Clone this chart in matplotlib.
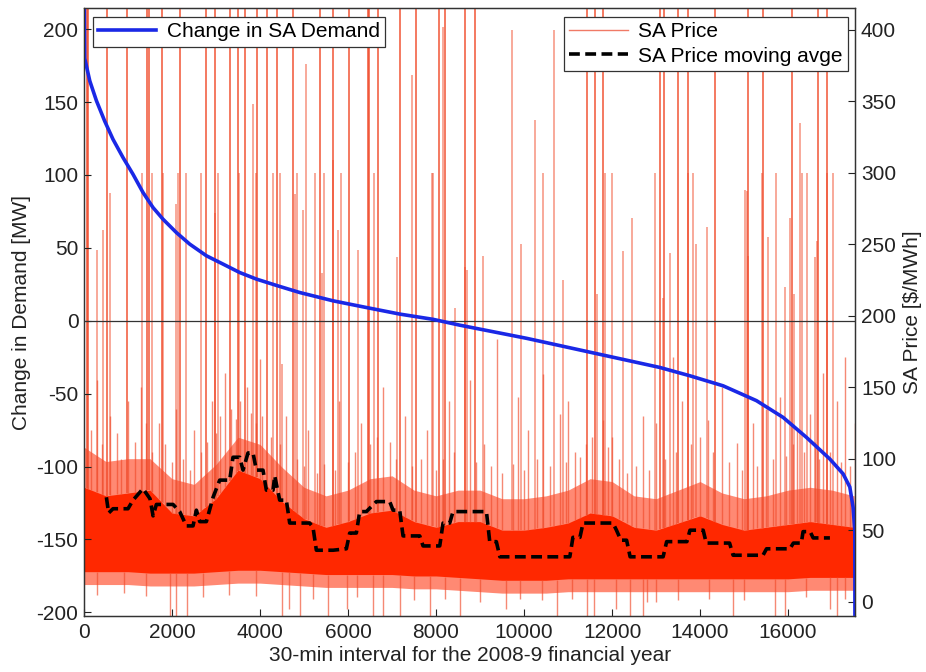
import matplotlib
matplotlib.use("Agg")
import matplotlib.pyplot as plt
import numpy as np

plt.rcParams['font.family'] = ['Liberation Sans', 'DejaVu Sans']
plt.rcParams['axes.unicode_minus'] = False
FS = 15

# ---------------- data ----------------
# Change in SA demand (duration curve), MW
demand_x = [0, 16, 132, 282, 470, 659, 886, 1114, 1341, 1568, 1795, 2100, 2402,
            2782, 3159, 3539, 3918, 4400, 4902, 5660, 6418, 7175, 7932, 8539,
            10054, 11568, 13084, 13766, 14523, 15282, 15888, 16418, 16948,
            17250, 17402, 17477, 17516, 17520]
demand_y = [250, 180, 164.5, 151, 137, 124.5, 112, 100.5, 88, 77.7, 69.7, 60.5, 52.6,
            44.6, 38.9, 33.1, 28.6, 24, 19.4, 13.7, 9.1, 4.6, 1.0, -3,
            -12, -22, -32, -37.7, -44.6, -54.8, -66.3, -80, -94.8,
            -105, -114, -128, -144, -230]

# SA price dense band (envelopes), $/MWh
band_x = list(range(0, 18000, 500))
core_hi = [80, 74, 76, 78, 62, 60, 72, 92, 86, 70, 58, 52, 56, 62, 64, 56, 52, 56,
           56, 50, 50, 52, 55, 62, 60, 52, 50, 55, 60, 54, 50, 52, 54, 56, 54, 52]
fringe_hi = [108, 98, 100, 100, 86, 82, 96, 115, 110, 94, 80, 74, 78, 86, 88, 78, 74, 78,
             78, 72, 72, 74, 78, 86, 84, 74, 72, 78, 84, 76, 72, 74, 78, 80, 78, 74]
core_lo = [21, 21, 21, 20, 20, 20, 21, 22, 22, 21, 20, 19, 19, 19, 19, 18, 18, 17,
           16, 15, 15, 15, 16, 16, 16, 16, 16, 16, 16, 16, 16, 16, 16, 17, 17, 17]
fringe_lo = [12, 12, 12, 11, 11, 11, 12, 13, 13, 12, 11, 10, 10, 10, 10, 9, 9, 8,
             7, 6, 6, 6, 7, 7, 7, 7, 7, 7, 7, 7, 7, 7, 7, 8, 8, 8]

# price spikes that run off the top of the chart (interval index)
tall_spike_x = [60, 84, 516, 970, 1440, 1470, 1766, 2175, 2766, 2970, 3311, 3493,
                3652, 3925, 4152, 4380, 4743, 5357, 5652, 6016, 6450, 6470, 6675,
                7175, 7539, 8061, 8198, 8652, 8880, 11425, 11607, 11789, 13084,
                13175, 13493, 13720, 14334, 15084, 15425, 16084, 16675, 16880]
# medium spikes: position and peak price
mid_spike_x = [1311, 1539, 1789, 2130, 2311, 2652, 3039, 3516, 3902, 4289, 4834,
               5243, 5448, 5834, 6584, 7902, 7925, 5039, 3834, 7448, 8152, 4789,
               5652, 584, 425, 289, 2084, 2970, 5766, 6220, 7107, 5402, 8652,
               4448, 4970, 4493, 8425, 8693,
               9720, 10675, 10243, 10425, 11834, 11993, 12970, 13720, 13834, 15061,
               15402, 15720, 16266, 16311, 16425, 16880, 17016, 9061, 9925, 10880,
               12448, 12243, 14152, 13902, 15538, 16038, 16652, 15925, 16130, 11652,
               13152, 15084, 13311, 16607, 15016]
mid_spike_y = [300, 300, 300, 300, 300, 300, 300, 300, 300, 300, 300,
               300, 300, 300, 300, 300, 300, 376, 348, 368, 402, 285,
               309, 286, 260, 246, 278, 272, 260, 246, 241, 230, 234,
               300, 274, 166, 205, 232,
               400, 400, 337, 300, 300, 300, 300, 300, 300, 287,
               300, 300, 335, 300, 300, 300, 300, 242, 250, 225,
               268, 245, 262, 250, 255, 268, 252, 220, 215, 215,
               212, 242, 244, 241, 288]
# low spikes above the band
low_spike_x = [290, 600, 1000, 1300, 1700, 2100, 2500, 2900, 3200, 3700, 4000, 4600,
               5100, 5800, 6300, 6800, 7300, 7800, 8300, 8765, 9100, 9380, 9860,
               10100, 10430, 10810, 11000, 11270, 11790, 12000, 12330, 12700, 13000,
               13380, 13600, 14170, 14500, 14830, 15200, 15500, 15810, 16200,
               16490, 16800, 17100, 17290, 17510,
               150, 400, 750, 850, 1150, 1400, 1550, 1850, 2000, 2250, 2400, 2650,
               2800, 3000, 3100, 3350, 3450, 3550, 3800, 3900, 4050, 4250, 4450,
               4850, 5000, 5300, 5450, 5700, 6000, 6150, 6500, 6650, 6950, 7100,
               7450, 7650, 8000, 8150, 8400, 8900, 9250, 9500, 9750, 10000, 10300,
               10600, 10950, 11150, 11400, 11550, 11900, 12150, 12550, 12850, 13200,
               13450, 13800, 14000, 14300, 14650, 14950, 15300, 15650, 15950, 16100,
               16350, 16600, 16700, 16950, 17200, 17400]
low_spike_y = [155, 130, 140, 150, 125, 135, 120, 140, 160, 150, 170, 130,
               120, 140, 125, 150, 130, 120, 140, 155, 110, 184, 143,
               120, 159, 131, 140, 101, 127, 115, 90, 130, 125,
               171, 140, 127, 150, 111, 125, 135, 143, 120,
               131, 160, 140, 171, 125,
               120, 110, 118, 100, 112, 125, 105, 110, 98, 100, 92, 105,
               112, 118, 130, 135, 128, 140, 132, 125, 130, 115, 110,
               100, 95, 90, 96, 92, 98, 105, 110, 115, 112, 100,
               95, 100, 92, 100, 105, 98, 95, 90, 96, 92, 100,
               95, 98, 105, 110, 115, 108, 100, 95, 92, 100,
               105, 110, 115, 105, 98, 92, 95, 100, 102, 110,
               105, 112, 100, 105, 98, 95]
# dips below the band
dip_x = [1950, 2100, 2330, 4500, 4650, 4900, 5550, 5970, 6570, 6800, 7175, 7860,
         8540, 9600, 10740, 11420, 11600, 12100, 12400, 12700, 12800, 14750,
         15700, 15930, 16950, 17100,
         300, 900, 1400, 2700, 3300, 3900, 5200, 6200, 7500, 8200, 9000, 9900,
         10400, 11100, 13000, 13500, 14200, 15000, 16400, 17300]
dip_y = [-15, -15, -15, -15, -5, -15, -15, -5, -15, -15, -15, -15,
         -15, -5, -15, -15, -15, -5, -15, -15, 0, -15,
         -15, -15, -5, -15,
         5, 6, 4, 3, 5, 4, 2, 3, 1, 2, 0, 2,
         1, 2, 0, 1, 2, 1, 3, 2]

# moving average of SA price
ma_x = [509, 560, 660, 1000, 1114, 1341, 1500, 1570, 1645, 2023, 2175, 2327, 2478,
        2554, 2630, 2781, 2933, 3084, 3311, 3386, 3538, 3614, 3727, 3841, 3917,
        4068, 4144, 4296, 4334, 4447, 4598, 4674, 5128, 5204, 5280, 5659, 5962,
        6038, 6189, 6265, 6416, 6644, 6947, 7023, 7174, 7250, 7629, 7705, 8084,
        8159, 8311, 8386, 8765, 9145, 9220, 9370, 9450, 11040, 11110, 11270,
        11340, 12020, 12100, 12200, 12330, 12410, 13160, 13240, 13700, 13770,
        14070, 14140, 14670, 14750, 15430, 15510, 16040, 16120, 16300, 16340,
        16500, 16570, 16950]
ma_y = [73, 62, 65, 65, 71, 79, 72, 60, 68, 68, 63, 53, 53,
        64, 56, 56, 73, 85, 85, 101, 101, 92, 104, 104, 92,
        92, 78, 78, 88, 71, 71, 55, 55, 52, 36, 36, 37,
        48, 48, 63, 63, 70, 70, 64, 64, 46, 46, 39, 39,
        55, 55, 63, 63, 63, 42, 42, 31.4, 31.4, 45, 45,
        55, 55, 50, 43, 43, 31.4, 31.4, 42, 42, 50,
        50, 41, 41, 32.5, 32.5, 37, 37, 41, 41, 49,
        49, 44.6, 44.6]

# ---------------- figure ----------------
fig = plt.figure(figsize=(9.26, 6.72), dpi=100)
ax = fig.add_axes([0.0907, 0.0833, 0.8331, 0.9047])
ax2 = ax.twinx()
ax.set_zorder(ax2.get_zorder() + 1)
ax.patch.set_visible(False)

red = '#ff2800'
spike_col = '#f04a2a'

# price band
ax2.fill_between(band_x, fringe_lo, fringe_hi, color=red, alpha=0.55, lw=0)
ax2.fill_between(band_x, core_lo, core_hi, color=red, alpha=1.0, lw=0)
# spikes
ax2.vlines(low_spike_x, np.interp(low_spike_x, band_x, core_hi),
           low_spike_y, color=spike_col, lw=1.0, alpha=0.65)
ax2.vlines(dip_x, dip_y, np.interp(dip_x, band_x, core_lo),
           color=spike_col, lw=1.0, alpha=0.65)
ax2.vlines(mid_spike_x, np.interp(mid_spike_x, band_x, core_hi), mid_spike_y,
           color=spike_col, lw=1.1, alpha=0.6)
ax2.vlines(tall_spike_x, np.interp(tall_spike_x, band_x, core_hi), 1000,
           color=spike_col, lw=1.3, alpha=0.8)
price_handle, = ax2.plot([], [], color='#f07a66', lw=1.0, label='SA Price')
ma_line, = ax2.plot(ma_x, ma_y, color='black', lw=2.6, ls=(0, (3, 1.5)),
                    label='SA Price moving avge')

# demand
ax.axhline(0, color='#333333', lw=0.9)
dline, = ax.plot(demand_x, demand_y, color='#1a28e6', lw=2.6,
                 label='Change in SA Demand')

# axes limits / ticks
ax.set_xlim(0, 17530)
ax.set_ylim(-202.5, 214.5)
ax2.set_ylim(-10, 415)
ax.set_yticks(np.arange(-200, 201, 50))
ax.set_xticks(np.arange(0, 16001, 2000))
ax2.set_yticks(np.arange(0, 401, 50))
for a in (ax, ax2):
    a.tick_params(direction='in', length=5, width=0.8, labelsize=FS,
                  colors='#222222', labelcolor='#222222')
    for s in a.spines.values():
        s.set_color('#333333')
        s.set_linewidth(0.9)
ax.tick_params(axis='x', pad=5)
ax.tick_params(axis='y', pad=4)
ax2.tick_params(axis='y', pad=4)

ax.set_xlabel('30-min interval for the 2008-9 financial year', fontsize=FS,
              color='#222222', labelpad=3)
ax.set_ylabel('Change in Demand [MW]', fontsize=FS, color='#222222')
ax.yaxis.set_label_coords(-0.069, 0.5)
ax2.set_ylabel('SA Price [$/MWh]', fontsize=FS, color='#222222', labelpad=5)

leg1 = ax.legend(handles=[dline], loc='upper left', bbox_to_anchor=(0.0113, 0.985),
                 borderaxespad=0, fontsize=FS, frameon=True, fancybox=False,
                 handlelength=2.8, borderpad=0.25, handletextpad=0.5)
leg1.get_frame().set_edgecolor('#333333')
leg1.get_frame().set_linewidth(0.9)
leg2 = ax2.legend(handles=[price_handle, ma_line], loc='upper right',
                  bbox_to_anchor=(0.990, 0.985), borderaxespad=0, fontsize=FS,
                  frameon=True, fancybox=False, handlelength=2.8, borderpad=0.25,
                  handletextpad=0.5, labelspacing=0.25)
leg2.get_frame().set_edgecolor('#333333')
leg2.get_frame().set_linewidth(0.9)
for l in (leg1, leg2):
    l.get_frame().set_alpha(1.0)

fig.savefig('out.png', dpi=100)
